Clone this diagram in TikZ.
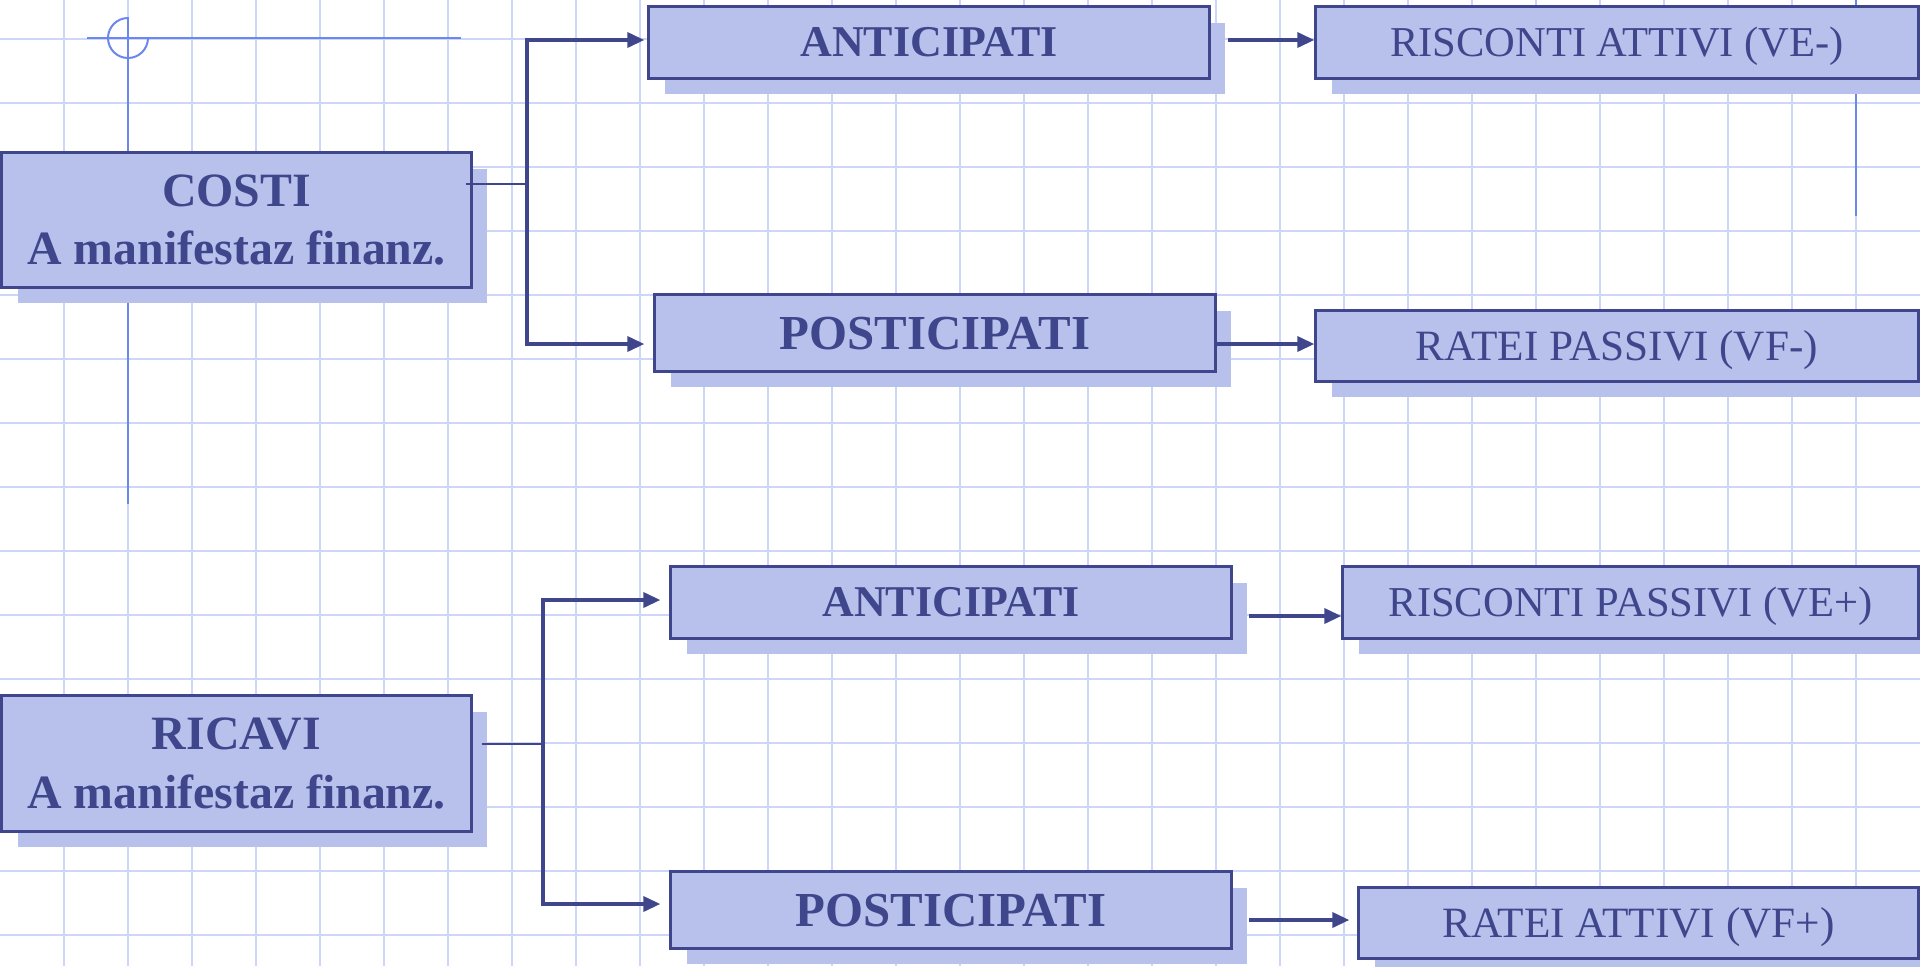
\documentclass[tikz,border=0pt]{standalone}
\usepackage{fontspec}
\setmainfont{Liberation Serif}
\usetikzlibrary{arrows.meta,shadows,calc}
\definecolor{gridc}{HTML}{CCD7F7}
\definecolor{guide}{HTML}{6C87EE}
\definecolor{boxfill}{HTML}{B8C1EC}
\definecolor{ink}{HTML}{3F468C}
\begin{document}
\begin{tikzpicture}[x=0.01cm,y=-0.01cm,
  gridline/.style={draw=gridc, line width=0.02cm},
  guideline/.style={draw=guide, line width=0.02cm},
  box/.style={draw=ink, line width=0.03cm, fill=boxfill, inner sep=0pt, text=ink,
    drop shadow={shadow xshift=0.16cm, shadow yshift=-0.16cm, fill=boxfill, opacity=1, draw=none}},
  bigbox/.style={box, align=center, minimum width=4.69cm,
    font=\fontsize{13.6}{16.6}\selectfont\bfseries},
  midbold/.style={box, minimum width=5.60cm, text height=8.2pt, text depth=0pt,
    font=\fontsize{12.5}{14}\selectfont\bfseries},
  postbold/.style={box, minimum width=5.60cm, minimum height=0.76cm, text height=9.2pt, text depth=0pt,
    font=\fontsize{13.9}{16}\selectfont\bfseries},
  rightbox/.style={box, text height=7.9pt, text depth=0pt,
    font=\fontsize{12.1}{14}\selectfont},
  ratebox/.style={box, text height=8.1pt, text depth=0pt,
    font=\fontsize{12.3}{14}\selectfont},
  thinc/.style={draw=ink, line width=0.02cm},
  trunk/.style={draw=ink, line width=0.035cm, line cap=rect},
  arr/.style={draw=ink, line width=0.035cm, -{Triangle[length=0.17cm,width=0.15cm]}}
]
\clip (0,0) rectangle (1920,966);
\fill[white] (0,0) rectangle (1920,966);
% grid
\foreach \k in {1,...,29} \draw[gridline] (64*\k,0) -- (64*\k,966);
\foreach \k in {0,...,14} \draw[gridline] (0,39+64*\k) -- (1920,39+64*\k);
% guides
\draw[guideline] (87,38) -- (461,38);
\draw[guideline] (128,17) -- (128,504);
\draw[guideline] (128,18) arc[start angle=270, end angle=0, radius=20];
\draw[guideline] (1856,0) -- (1856,216);
% boxes
\node[bigbox, minimum height=1.34cm] (costi) at (236.5,220) {COSTI\\A manifestaz finanz.};
\node[midbold, minimum height=0.71cm] (ant1) at (929,42.5) {ANTICIPATI};
\node[rightbox, minimum width=6.02cm, minimum height=0.71cm] (risc1) at (1617,42.5) {RISCONTI ATTIVI (VE-)};
\node[postbold] (post1) at (935,333) {POSTICIPATI};
\node[ratebox, minimum width=6.02cm, minimum height=0.70cm] (rp1) at (1617,346) {RATEI PASSIVI (VF-)};
\node[bigbox, minimum height=1.35cm] (ricavi) at (236.5,763.5) {RICAVI\\A manifestaz finanz.};
\node[midbold, minimum height=0.71cm] (ant2) at (951,602.5) {ANTICIPATI};
\node[rightbox, minimum width=5.75cm, minimum height=0.71cm] (rpass) at (1630.5,602.5) {RISCONTI PASSIVI (VE+)};
\node[postbold] (post2) at (951,910) {POSTICIPATI};
\node[ratebox, minimum width=5.59cm, minimum height=0.70cm] (ra) at (1638.5,923) {RATEI ATTIVI (VF+)};
% connectors, costi
\coordinate (j1) at (527,184);
\coordinate (t1) at (527,40);
\coordinate (b1) at (527,344);
\draw[thinc] ($(costi.east |- j1)+(-7,0)$) -- (j1);
\draw[trunk] (t1) -- (b1);
\draw[arr, shorten >=0.03cm] (t1) -- (ant1.west |- t1);
\draw[arr, shorten >=0.09cm] (b1) -- (post1.west |- b1);
\draw[arr] ($(ant1.east |- t1)+(17,0)$) -- (risc1.west |- t1);
\draw[arr] (post1.east |- b1) -- (rp1.west |- b1);
% connectors, ricavi
\coordinate (j2) at (543,744);
\coordinate (t2) at (543,600);
\coordinate (b2) at (543,904);
\coordinate (m2) at (1249,616);
\coordinate (n2) at (1249,920);
\draw[thinc] ($(ricavi.east |- j2)+(9,0)$) -- (j2);
\draw[trunk] (t2) -- (b2);
\draw[arr, shorten >=0.09cm] (t2) -- (ant2.west |- t2);
\draw[arr, shorten >=0.09cm] (b2) -- (post2.west |- b2);
\draw[arr] (m2) -- (rpass.west |- m2);
\draw[arr, shorten >=0.08cm] (n2) -- (ra.west |- n2);
\end{tikzpicture}
\end{document}
